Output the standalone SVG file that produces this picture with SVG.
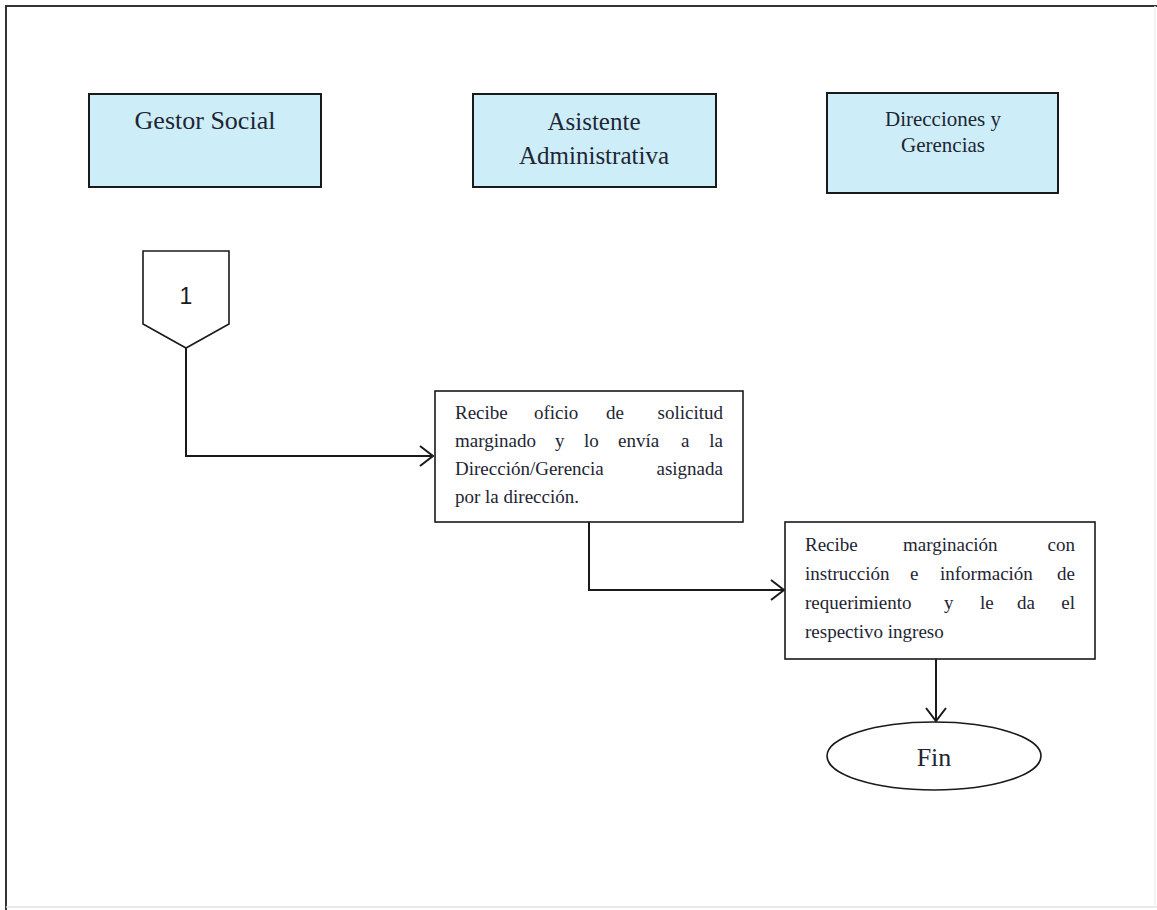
<svg xmlns="http://www.w3.org/2000/svg" width="1157" height="910" viewBox="0 0 1157 910">
<style>
.hdr{fill:#cdeef9;stroke:#1a1a1a;stroke-width:2}
.box{fill:#ffffff;stroke:#1a1a1a;stroke-width:1.6}
.t{font-family:"Liberation Serif","Times New Roman",serif;fill:#1e2533}
.conn{fill:none;stroke:#1a1a1a;stroke-width:2}
</style>
<defs>
<marker id="arr" markerUnits="userSpaceOnUse" markerWidth="30" markerHeight="30" viewBox="-20 -15 30 30" refX="0" refY="0" orient="auto">
<path d="M -13 -10 L 0 0 L -13 10" fill="none" stroke="#1a1a1a" stroke-width="2"/>
</marker>
</defs>
<rect width="1157" height="910" fill="#ffffff"/>
<g id="frame">
<line x1="6" y1="6" x2="1157" y2="6" stroke="#333" stroke-width="2"/>
<line x1="6" y1="5" x2="6" y2="910" stroke="#333" stroke-width="2"/>
<line x1="6" y1="907" x2="1157" y2="907" stroke="#e2e2e2" stroke-width="1.5"/>
<line x1="1155" y1="6" x2="1155" y2="907" stroke="#f0f0f0" stroke-width="1.5"/>
</g>
<g id="lane-gestor">
<rect class="hdr" x="89" y="94" width="232" height="93"/>
<text class="t" x="205" y="129" font-size="26" text-anchor="middle">Gestor Social</text>
</g>
<g id="lane-asistente">
<rect class="hdr" x="473" y="94" width="243" height="93"/>
<text class="t" x="594" y="130" font-size="25" text-anchor="middle">Asistente</text>
<text class="t" x="594" y="164" font-size="25" text-anchor="middle">Administrativa</text>
</g>
<g id="lane-direcciones">
<rect class="hdr" x="827" y="93" width="231" height="100"/>
<text class="t" x="943" y="126" font-size="21" text-anchor="middle">Direcciones y</text>
<text class="t" x="943" y="152" font-size="21" text-anchor="middle">Gerencias</text>
</g>
<g id="connector-1">
<polygon points="143,251 229,251 229,324 186,348 143,324" fill="#ffffff" stroke="#1a1a1a" stroke-width="1.6"/>
<text x="186" y="304" font-size="23" text-anchor="middle" font-family="Liberation Sans, Arial, sans-serif" fill="#1a1a1a">1</text>
</g>
<g id="step-1">
<rect class="box" x="435" y="391" width="308" height="131"/>
<g class="t" font-size="19">
<text x="455" y="419">Recibe</text>
<text x="534" y="419">oficio</text>
<text x="606" y="419">de</text>
<text x="723" y="419" text-anchor="end">solicitud</text>
<text x="455" y="447">marginado</text>
<text x="555" y="447">y</text>
<text x="584" y="447">lo</text>
<text x="618" y="447">envía</text>
<text x="681" y="447">a</text>
<text x="723" y="447" text-anchor="end">la</text>
<text x="455" y="475">Dirección/Gerencia</text>
<text x="723" y="475" text-anchor="end">asignada</text>
<text x="455" y="503">por la dirección.</text>
</g>
</g>
<g id="step-2">
<rect class="box" x="785" y="522" width="310" height="137"/>
<g class="t" font-size="19">
<text x="805" y="551">Recibe</text>
<text x="903" y="551">marginación</text>
<text x="1075" y="551" text-anchor="end">con</text>
<text x="805" y="580">instrucción</text>
<text x="910" y="580">e</text>
<text x="940" y="580">información</text>
<text x="1075" y="580" text-anchor="end">de</text>
<text x="805" y="609">requerimiento</text>
<text x="944" y="609">y</text>
<text x="980" y="609">le</text>
<text x="1017" y="609">da</text>
<text x="1075" y="609" text-anchor="end">el</text>
<text x="805" y="638">respectivo ingreso</text>
</g>
</g>
<g id="fin">
<ellipse cx="934" cy="756" rx="107" ry="34" fill="#ffffff" stroke="#1a1a1a" stroke-width="1.6"/>
<text class="t" x="934" y="766" font-size="26" text-anchor="middle">Fin</text>
</g>
<g id="connectors">
<path class="conn" d="M 186 348 L 186 456 L 433 456" marker-end="url(#arr)"/>
<path class="conn" d="M 589 522 L 589 590 L 784 590" marker-end="url(#arr)"/>
<path class="conn" d="M 936 659 L 936 721" marker-end="url(#arr)"/>
</g>
</svg>
